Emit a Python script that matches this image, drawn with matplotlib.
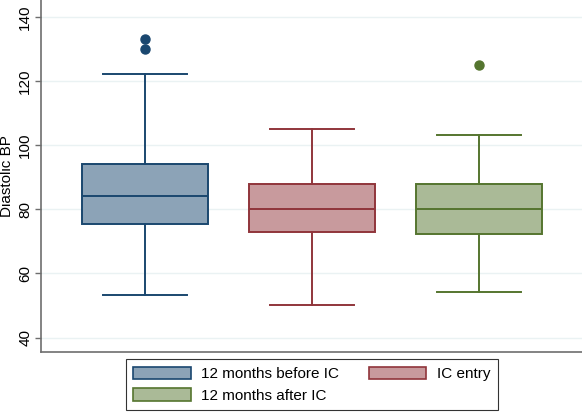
import matplotlib
matplotlib.use("Agg")
import matplotlib.pyplot as plt
from matplotlib.patches import Patch

plt.rcParams['font.family'] = ['Liberation Sans', 'DejaVu Sans']

groups = ["12 months before IC", "IC entry", "12 months after IC"]
q1 = [75.4, 72.8, 72.4]
medians = [84.3, 80.2, 80.1]
q3 = [94.0, 88.0, 88.0]
whislo = [53.2, 50.2, 54.3]
whishi = [122.2, 105.0, 103.1]
fliers = [[130.0, 133.1], [], [125.1]]

edge_colors = ["#1A476F", "#90353B", "#55752F"]
fill_colors = ["#8CA3B7", "#C89A9D", "#AABA97"]

yticks = [40, 60, 80, 100, 120, 140]
ylabel = "Diastolic BP"

fig = plt.figure(figsize=(5.82, 4.13), dpi=100)
ax = fig.add_axes([41/582, 1-351.7/413, 1-41/582, 351.7/413])

stats = []
for i in range(3):
    stats.append(dict(med=medians[i], q1=q1[i], q3=q3[i], whislo=whislo[i],
                      whishi=whishi[i], fliers=fliers[i], label=groups[i]))

positions = [1, 2, 3]
for i in range(3):
    ec = edge_colors[i]
    ax.bxp([stats[i]], positions=[positions[i]], widths=0.75, patch_artist=True,
           boxprops=dict(facecolor=fill_colors[i], edgecolor=ec, linewidth=1.4),
           medianprops=dict(color=ec, linewidth=1.4),
           whiskerprops=dict(color=ec, linewidth=1.4),
           capprops=dict(color=ec, linewidth=1.4),
           capwidths=0.5,
           flierprops=dict(marker='o', markerfacecolor=ec, markeredgecolor=ec,
                           markersize=6.5),
           zorder=3)

ax.set_xlim(0.377, 3.617)
ax.set_ylim(35.6, 145.3)
ax.set_yticks(yticks)
ax.set_yticklabels([str(t) for t in yticks], rotation=90, va='center', fontsize=11)
ax.set_xticks([])
ax.set_ylabel(ylabel, fontsize=11)
ax.yaxis.set_label_coords(-0.0495, 0.5)
ax.yaxis.grid(True, color="#EAF2F3", linewidth=1.0, zorder=0)
ax.set_axisbelow(True)
for s in ['top', 'right']:
    ax.spines[s].set_visible(False)
for s in ['left', 'bottom']:
    ax.spines[s].set_color("#6E6E6E")
    ax.spines[s].set_linewidth(1.2)
ax.tick_params(axis='y', colors="#6E6E6E", labelcolor="black", length=4.3, width=1.0, pad=2)

handles = [Patch(facecolor=fill_colors[i], edgecolor=edge_colors[i], linewidth=1.2, label=groups[i])
           for i in range(3)]
order = [0, 2, 1]
leg = fig.legend([handles[i] for i in order], [groups[i] for i in order],
                 loc='lower center', bbox_to_anchor=(0.536, -0.012), ncol=2,
                 fontsize=11, frameon=True, fancybox=False, edgecolor="black",
                 handlelength=3.75, handleheight=0.9, handletextpad=0.7,
                 columnspacing=1.95, labelspacing=0.45, borderpad=0.5)
leg.get_frame().set_linewidth(0.8)

fig.savefig("out.png", dpi=100)
